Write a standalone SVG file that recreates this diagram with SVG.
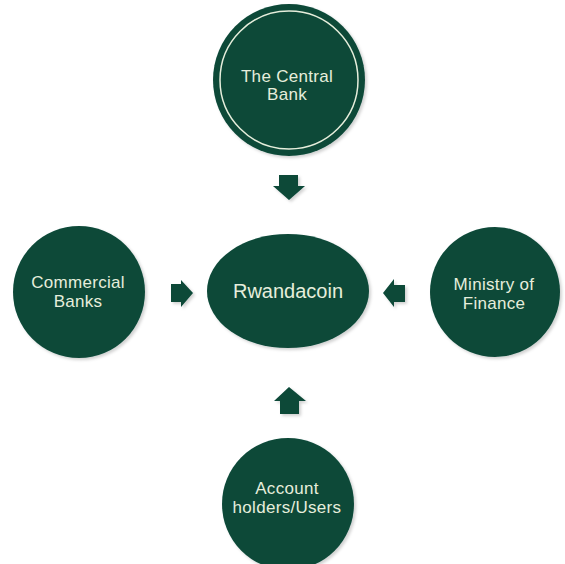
<svg xmlns="http://www.w3.org/2000/svg" width="565" height="564" viewBox="0 0 565 564">
<defs>
<filter id="sh" x="-20%" y="-20%" width="140%" height="140%">
<feDropShadow dx="2" dy="2" stdDeviation="1.5" flood-color="#000" flood-opacity="0.18"/>
</filter>
<style>
.node{fill:#0a4838;filter:url(#sh);}
.arr{fill:#0a4838;filter:url(#sh);}
.lbl{font-family:"Liberation Sans",Arial,sans-serif;font-size:17px;letter-spacing:0.3px;fill:#e6eedc;text-anchor:middle;}
.big{font-size:20px;letter-spacing:0;}
</style>
</defs>
<rect width="565" height="564" fill="#ffffff"/>
<g id="central-bank">
<circle class="node" cx="289" cy="80" r="76"/>
<circle cx="289" cy="80" r="69" fill="none" stroke="#e6eedc" stroke-width="1.5"/>
<text class="lbl" x="287" y="82">The Central</text>
<text class="lbl" x="287" y="100">Bank</text>
</g>
<g id="rwandacoin">
<ellipse class="node" cx="288" cy="291" rx="81" ry="57"/>
<text class="lbl big" x="288" y="298">Rwandacoin</text>
</g>
<g id="commercial-banks">
<circle class="node" cx="79" cy="292" r="66"/>
<text class="lbl" x="78" y="288">Commercial</text>
<text class="lbl" x="78" y="307">Banks</text>
</g>
<g id="ministry-of-finance">
<circle class="node" cx="495" cy="292" r="65"/>
<text class="lbl" x="494" y="290">Ministry of</text>
<text class="lbl" x="494" y="309">Finance</text>
</g>
<g id="account-holders">
<circle class="node" cx="288" cy="504" r="66"/>
<text class="lbl" x="287" y="494">Account</text>
<text class="lbl" x="287" y="513">holders/Users</text>
</g>
<g id="connectors">
<polygon class="arr" points="279,175 298,175 298,186 305,186 289,200 273,186 279,186"/>
<polygon class="arr" points="171,284 181,284 181,280 193,293 181,307 181,302 171,302"/>
<polygon class="arr" points="405,285 394,285 394,279 383,293 394,307 394,302 405,302"/>
<polygon class="arr" points="280,414 299,414 299,401 306,401 289,387 274,401 280,401"/>
</g>
</svg>
